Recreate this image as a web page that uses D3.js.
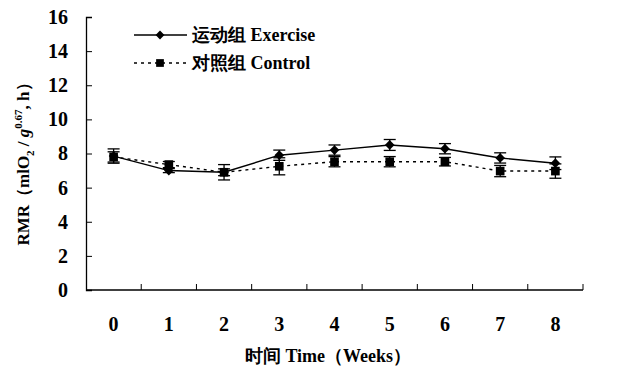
<!DOCTYPE html>
<html>
<head>
<meta charset="utf-8">
<script src="https://cdn.jsdelivr.net/npm/d3@7"></script>
<style>
  body { margin: 0; background: #fff; }
</style>
</head>
<body>
<svg id="chart" width="628" height="369"></svg>
<script>
const weeks = ["0", "1", "2", "3", "4", "5", "6", "7", "8"];
const exercise = [7.85, 7.0, 6.9, 7.9, 8.2, 8.5, 8.28, 7.74, 7.43];
const exerciseErr = [0.42, 0.12, 0.2, 0.3, 0.3, 0.32, 0.3, 0.3, 0.37];
const control = [7.8, 7.35, 6.9, 7.25, 7.52, 7.52, 7.52, 6.97, 6.97];
const controlErr = [0.3, 0.18, 0.45, 0.5, 0.3, 0.3, 0.25, 0.33, 0.42];
const yTicks = [0, 2, 4, 6, 8, 10, 12, 14, 16];

const FONT = "Liberation Serif";

const svg = d3.select("#chart");
const margin = {left: 86, right: 45, top: 17, bottom: 79};
const W = 628, H = 369;

const x = d3.scaleBand().domain(weeks).range([margin.left, W - margin.right]);
const y = d3.scaleLinear().domain([0, 16]).range([H - margin.bottom, margin.top]);

// axes, ticks point inward
const yAxis = d3.axisLeft(y).tickValues(yTicks).tickSize(-6).tickPadding(18);
const gy = svg.append("g").attr("transform", `translate(${margin.left},0)`).call(yAxis)
  .attr("font-family", null);
gy.select(".domain").attr("stroke-width", 1.3);
gy.selectAll("text").attr("font-family", FONT).style("font-size", "20px").style("font-weight", "bold");

const gx = svg.append("g").attr("transform", `translate(0,${H - margin.bottom})`);
gx.append("line")
  .attr("x1", margin.left).attr("x2", W - margin.right)
  .attr("stroke", "#000").attr("stroke-width", 1.3);
const bounds = weeks.map(w => x(w) + x.bandwidth());
gx.selectAll(".tk").data(bounds).join("line")
  .attr("x1", d => d).attr("x2", d => d).attr("y1", 0).attr("y2", -6)
  .attr("stroke", "#000");
gx.selectAll(".lbl").data(weeks).join("text")
  .attr("x", d => x(d) + x.bandwidth() / 2).attr("y", 41)
  .attr("text-anchor", "middle")
  .attr("font-family", FONT).style("font-size", "20px").style("font-weight", "bold")
  .text(d => d);

const cx = i => x(weeks[i]) + x.bandwidth() / 2;

function drawSeries(vals, errs, dash, shape, size) {
  const line = d3.line().x((d, i) => cx(i)).y(d => y(d));
  svg.append("path").datum(vals)
    .attr("fill", "none").attr("stroke", "#000").attr("stroke-width", 1.4)
    .attr("stroke-dasharray", dash).attr("d", line);
  const g = svg.append("g");
  vals.forEach((v, i) => {
    const px = cx(i);
    g.append("line").attr("x1", px).attr("x2", px)
      .attr("y1", y(v + errs[i])).attr("y2", y(v - errs[i])).attr("stroke", "#000").attr("stroke-width", 1.3);
    [v + errs[i], v - errs[i]].forEach(e => {
      g.append("line").attr("x1", px - 6).attr("x2", px + 6)
        .attr("y1", y(e)).attr("y2", y(e)).attr("stroke", "#000").attr("stroke-width", 1.3);
    });
  });
  g.selectAll("path.m").data(vals).join("path")
    .attr("transform", (d, i) => `translate(${cx(i)},${y(d)})`)
    .attr("d", d3.symbol().type(shape).size(size))
    .attr("fill", "#000");
}

drawSeries(control, controlErr, "3,4", d3.symbolSquare, 75);
drawSeries(exercise, exerciseErr, null, d3.symbolDiamond2, 60);

// legend
const legend = [
  {label: "运动组 Exercise", dash: null, shape: d3.symbolDiamond2, size: 50},
  {label: "对照组 Control", dash: "3,4", shape: d3.symbolSquare, size: 60}
];
legend.forEach((l, i) => {
  const ly = 35 + i * 28;
  svg.append("line").attr("x1", 134).attr("x2", 187).attr("y1", ly).attr("y2", ly)
    .attr("stroke", "#000").attr("stroke-width", 1.3).attr("stroke-dasharray", l.dash);
  svg.append("path")
    .attr("d", d3.symbol().type(l.shape).size(l.size))
    .attr("transform", `translate(160,${ly})`)
    .attr("fill", "#000");
  svg.append("text").attr("x", 192).attr("y", ly + 6)
    .attr("font-family", FONT).style("font-size", "18px").style("font-weight", "bold").text(l.label);
});

// axis titles
svg.append("text")
  .attr("x", 328).attr("y", 362).attr("text-anchor", "middle")
  .attr("font-family", FONT).style("font-size", "18px").style("font-weight", "bold")
  .text("时间 Time（Weeks）");

const yt = svg.append("text")
  .attr("transform", "translate(29,160) rotate(-90)")
  .attr("text-anchor", "middle")
  .attr("font-family", FONT).style("font-size", "17px").style("font-weight", "bold");
yt.append("tspan").text("RMR（mlO");
yt.append("tspan").attr("dy", 5).style("font-size", "11px").text("2");
yt.append("tspan").attr("dy", -5).text(" / ");
yt.append("tspan").style("font-style", "italic").text("g");
yt.append("tspan").attr("dy", -7).style("font-size", "11px").text("0.67");
yt.append("tspan").attr("dy", 7).text(", h）");
</script>
</body>
</html>
